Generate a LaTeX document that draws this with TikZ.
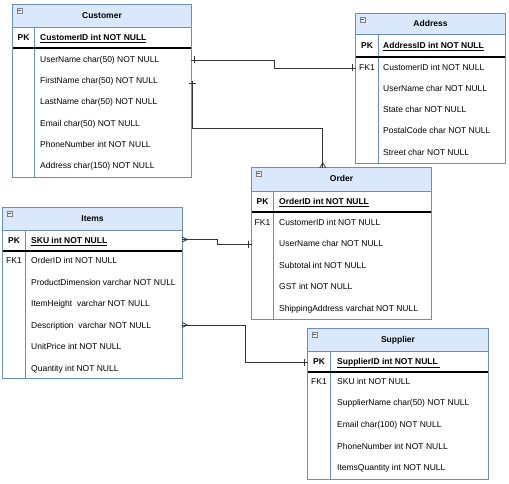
\documentclass[tikz,border=0pt]{standalone}
\usepackage{fontspec}
\setmainfont{Liberation Sans}
\usetikzlibrary{fit,calc}
\definecolor{hdr}{HTML}{DAE8FC}
\definecolor{bord}{HTML}{6C8EBF}
\definecolor{connc}{HTML}{333333}
\tikzset{
 tabbox/.style={inner sep=0pt, fill=white},
 rowtext/.style={anchor=west, inner sep=0pt, text height=6.3pt, text depth=1.8pt, font=\fontsize{8.5}{10}\selectfont},
 keytext/.style={inner sep=0pt, text height=6.3pt, text depth=1.8pt, font=\fontsize{8.5}{10}\selectfont},
 titletext/.style={inner sep=0pt, text height=6.3pt, text depth=1.8pt, font=\fontsize{8.5}{10}\selectfont\bfseries},
 pkline/.style={line width=1.2pt, black},
 divline/.style={draw=bord, line width=0.8pt},
 connline/.style={draw=connc, line width=0.8pt},
 iconbox/.style={draw=gray, fill=gray!15, line width=0.4pt, minimum size=5pt, inner sep=0pt}
}
% #1 name, #2 left, #3 top, #4 right, #5 bottom, #6 header bottom, #7 pk line, #8 divider x
\newcommand{\erframe}[8]{%
 \node[tabbox, fit={(#2,#3) (#4,#5)}] (#1) {};
 \fill[hdr] (#2,#3) rectangle (#4,#6);
 \draw[divline] (#2,#6) -- (#4,#6);
 \draw[divline] (#8,#6) -- (#8,#5);
 \draw[pkline] (#2,#7) -- (#4+1,#7);
 \draw[divline] (#1.north west) rectangle (#1.south east);
 \node[iconbox] (#1-icon) at (#2+6.5,#3+5.5) {};
 \draw[gray!70!black, line width=0.5pt] ([xshift=1pt]#1-icon.west) -- ([xshift=-1pt]#1-icon.east);
}
\begin{document}
\begin{tikzpicture}[x=1pt,y=-1pt]
\useasboundingbox (0,0) rectangle (509,484);
\fill[white] (0,0) rectangle (509,484);

% ---------- Customer ----------
\erframe{cust}{13}{5}{191}{177}{27}{48}{34}
\node[titletext] (cust-title) at (102,16) {Customer};
\node[keytext, font=\fontsize{8.5}{10}\selectfont\bfseries] (cust-pkl) at (23.5,38) {PK};
\node[rowtext, font=\fontsize{8.5}{10}\selectfont\bfseries] (cust-pk) at (40,38) {\underline{CustomerID int NOT NULL}};
\node[rowtext] (cust-r1) at (40,60) {UserName char(50) NOT NULL};
\node[rowtext] (cust-r2) at (40,81) {FirstName char(50) NOT NULL};
\node[rowtext] (cust-r3) at (40,102) {LastName char(50) NOT NULL};
\node[rowtext] (cust-r4) at (40,124) {Email char(50) NOT NULL};
\node[rowtext] (cust-r5) at (40,145) {PhoneNumber int NOT NULL};
\node[rowtext] (cust-r6) at (40,166) {Address char(150) NOT NULL};

% ---------- Address ----------
\erframe{addr}{356}{14}{505}{163}{34}{57}{378}
\node[titletext] (addr-title) at (430.5,24) {Address};
\node[keytext, font=\fontsize{8.5}{10}\selectfont\bfseries] (addr-pkl) at (367,46) {PK};
\node[rowtext, font=\fontsize{8.5}{10}\selectfont\bfseries] (addr-pk) at (383,46) {\underline{AddressID int NOT NULL}};
\node[keytext] (addr-fkl) at (367,68) {FK1};
\node[rowtext] (addr-r1) at (383,68) {CustomerID int NOT NULL};
\node[rowtext] (addr-r2) at (383,89.5) {UserName char NOT NULL};
\node[rowtext] (addr-r3) at (383,110.5) {State char NOT NULL};
\node[rowtext] (addr-r4) at (383,131.5) {PostalCode char NOT NULL};
\node[rowtext] (addr-r5) at (383,153) {Street char NOT NULL};

% ---------- Order ----------
\erframe{ord}{252}{168}{431}{319}{191}{212}{273}
\node[titletext] (ord-title) at (341.5,179.5) {Order};
\node[keytext, font=\fontsize{8.5}{10}\selectfont\bfseries] (ord-pkl) at (262.5,202) {PK};
\node[rowtext, font=\fontsize{8.5}{10}\selectfont\bfseries] (ord-pk) at (279,202) {\underline{OrderID int NOT NULL}};
\node[keytext] (ord-fkl) at (262.5,223) {FK1};
\node[rowtext] (ord-r1) at (279,223) {CustomerID int NOT NULL};
\node[rowtext] (ord-r2) at (279,244) {UserName char NOT NULL};
\node[rowtext] (ord-r3) at (279,266) {Subtotal int NOT NULL};
\node[rowtext] (ord-r4) at (279,287) {GST int NOT NULL};
\node[rowtext] (ord-r5) at (279,309) {ShippingAddress varchat NOT NULL};

% ---------- Items ----------
\erframe{items}{3}{208}{182}{378}{230}{251}{25}
\node[titletext] (items-title) at (92.5,219) {Items};
\node[keytext, font=\fontsize{8.5}{10}\selectfont\bfseries] (items-pkl) at (14,241) {PK};
\node[rowtext, font=\fontsize{8.5}{10}\selectfont\bfseries] (items-pk) at (31,241) {\underline{SKU int NOT NULL}};
\node[keytext] (items-fkl) at (14,261) {FK1};
\node[rowtext] (items-r1) at (31,261) {OrderID int NOT NULL};
\node[rowtext] (items-r2) at (31,283) {ProductDimension varchar NOT NULL};
\node[rowtext] (items-r3) at (31,304) {ItemHeight\ \ varchar NOT NULL};
\node[rowtext] (items-r4) at (31,326) {Description\ \ varchar NOT NULL};
\node[rowtext] (items-r5) at (31,347) {UnitPrice int NOT NULL};
\node[rowtext] (items-r6) at (31,369) {Quantity int NOT NULL};

% ---------- Supplier ----------
\erframe{sup}{308}{329}{488}{479}{351}{372}{330}
\node[titletext] (sup-title) at (398,340) {Supplier};
\node[keytext, font=\fontsize{8.5}{10}\selectfont\bfseries] (sup-pkl) at (319,362) {PK};
\node[rowtext, font=\fontsize{8.5}{10}\selectfont\bfseries] (sup-pk) at (337,362) {\underline{SupplierID int NOT NULL\ }};
\node[keytext] (sup-fkl) at (319,382) {FK1};
\node[rowtext] (sup-r1) at (337,382) {SKU int NOT NULL};
\node[rowtext] (sup-r2) at (337,403) {SupplierName char(50) NOT NULL};
\node[rowtext] (sup-r3) at (337,425) {Email char(100) NOT NULL};
\node[rowtext] (sup-r4) at (337,447) {PhoneNumber int NOT NULL};
\node[rowtext] (sup-r5) at (337,468) {ItemsQuantity int NOT NULL};

% ---------- Connectors ----------
\coordinate (j1) at (274,0);
\coordinate (j2) at (0,128);
\coordinate (j3) at (217,0);
\coordinate (j4) at (245,0);

% Customer -> Address
\coordinate (c1s) at (cust.east |- cust-r1);
\coordinate (c1e) at (addr.west |- addr-r1);
\draw[connline] (c1s) -- (j1 |- c1s) -- (j1 |- c1e) -- (c1e);
\draw[connline] ([xshift=3pt,yshift=3.5pt]c1s) -- ([xshift=3pt,yshift=-3.5pt]c1s);
\draw[connline] ([xshift=-3pt,yshift=3.5pt]c1e) -- ([xshift=-3pt,yshift=-3.5pt]c1e);

% Customer -> Order
\coordinate (c2s0) at (cust.east |- cust-r2);
\coordinate (c2s) at ([xshift=1pt]c2s0);
\coordinate (c2e) at ([xshift=71pt]ord.north west);
\draw[connline] (c2s) -- (c2s |- j2) -- (c2e |- j2) -- (c2e);
\draw[connline] ([xshift=-3.5pt,yshift=-2pt]c2s) -- ([xshift=3.5pt,yshift=-2pt]c2s);
\draw[connline] ([xshift=-3pt]c2e) -- ([yshift=5pt]c2e) -- ([xshift=3pt]c2e);

% Items -> Order
\coordinate (c3s0) at (items.east |- items-pk);
\coordinate (c3s) at ([yshift=1.5pt]c3s0);
\coordinate (c3e) at (ord.west |- ord-r2);
\draw[connline] (c3s) -- (j3 |- c3s) -- (j3 |- c3e) -- (c3e);
\draw[connline] ([yshift=2.5pt]c3s) -- ([xshift=5pt]c3s) -- ([yshift=-2.5pt]c3s);
\draw[connline] ([xshift=-3pt,yshift=3.5pt]c3e) -- ([xshift=-3pt,yshift=-3.5pt]c3e);

% Items -> Supplier
\coordinate (c4s0) at (items.east |- items-r4);
\coordinate (c4s) at ([yshift=1pt]c4s0);
\coordinate (c4e) at (sup.west |- sup-pk);
\draw[connline] (c4s) -- (j4 |- c4s) -- (j4 |- c4e) -- (c4e);
\draw[connline] ([yshift=2.5pt]c4s) -- ([xshift=5pt]c4s) -- ([yshift=-2.5pt]c4s);
\draw[connline] ([xshift=-3pt,yshift=3.5pt]c4e) -- ([xshift=-3pt,yshift=-3.5pt]c4e);
\end{tikzpicture}
\end{document}
